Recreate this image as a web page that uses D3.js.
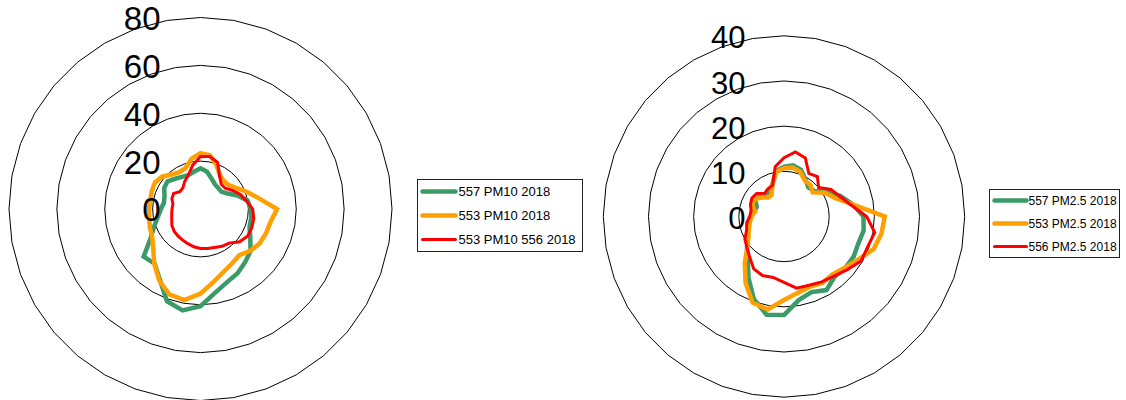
<!DOCTYPE html>
<html>
<head>
<meta charset="utf-8">
<script src="https://cdn.jsdelivr.net/npm/d3@7/dist/d3.min.js"></script>
<style>
  html, body { margin: 0; padding: 0; background: #fff; }
  svg { display: block; font-family: "Liberation Sans", Arial, sans-serif; }
</style>
</head>
<body>
<svg id="chart" width="1126" height="400"></svg>
<script>
// Wind directions, degrees clockwise from north
const directions = d3.range(0, 360, 10);

// PM10 concentration by wind direction, 2018
const pm10Station557 = [17.0, 15.8, 13.5, 12.0, 11.5, 11.3, 13.0, 16.5, 20.0, 21.0, 21.5, 21.8,
                        24.0, 27.3, 29.0, 31.0, 32.5, 35.5, 40.6, 43.0, 41.0, 34.0, 29.8, 31.0,
                        24.0, 20.5, 18.0, 16.5, 15.5, 16.0, 17.5, 18.0, 16.5, 15.5, 15.0, 15.8];
const pm10Station553 = [23.3, 22.8, 19.5, 16.3, 15.2, 15.5, 17.5, 20.8, 25.0, 32.0, 29.8, 29.2,
                        28.6, 27.2, 25.2, 26.3, 28.0, 31.0, 35.3, 38.6, 38.0, 34.5, 30.0, 25.8,
                        23.3, 22.5, 21.8, 21.5, 21.3, 21.7, 22.0, 21.0, 18.8, 17.8, 18.2, 21.4];
const pm10Station556 = [21.9, 22.3, 20.8, 15.9, 13.5, 13.5, 15.5, 17.8, 19.5, 21.8, 22.6, 22.8,
                        22.7, 21.3, 18.6, 18.0, 17.1, 16.8, 16.5, 16.0, 15.4, 15.0, 14.7, 14.4,
                        13.8, 12.8, 12.2, 11.9, 11.7, 12.7, 13.0, 11.3, 11.5, 13.2, 15.0, 18.6];

// PM2.5 concentration by wind direction, 2018
const pm25Station557 = [11.0, 11.5, 11.0, 9.5, 8.4, 8.8, 11.0, 13.3, 15.5, 17.6, 17.9, 17.5,
                        17.8, 17.7, 17.4, 18.8, 17.8, 18.8, 21.8, 22.1, 19.5, 15.7, 12.5, 10.7,
                        9.2, 8.4, 8.0, 7.3, 6.7, 6.4, 7.4, 6.9, 6.5, 6.2, 7.5, 10.2];
const pm25Station553 = [10.7, 11.0, 10.5, 9.2, 9.1, 8.3, 10.5, 12.0, 15.4, 22.3, 21.9, 21.1,
                        19.0, 17.6, 16.7, 17.0, 16.6, 17.2, 18.5, 20.9, 20.3, 17.0, 13.5, 10.6,
                        9.1, 8.3, 7.7, 7.2, 6.5, 7.5, 7.6, 6.5, 5.5, 5.5, 7.5, 10.0];
const pm25Station556 = [13.0, 14.5, 13.8, 11.0, 11.5, 10.0, 12.0, 13.1, 15.0, 18.3, 20.4, 19.7,
                        19.7, 18.3, 17.2, 16.7, 16.2, 16.1, 14.6, 13.7, 13.9, 13.4, 11.8, 10.7,
                        10.0, 8.8, 8.4, 7.6, 7.4, 7.9, 8.2, 7.9, 6.7, 7.1, 7.4, 11.2];

// Radial tick labels
const pm10Ticks = [0, 20, 40, 60, 80];
const pm25Ticks = [0, 10, 20, 30, 40];

// Legend entries
const pm10Names = ["557 PM10 2018", "553 PM10 2018", "553 PM10 556 2018"];
const pm25Names = ["557 PM2.5 2018", "553 PM2.5 2018", "556 PM2.5 2018"];

const seriesColors = ["#3a9a68", "#ffa000", "#ff0000"];
const seriesWidths = [4.5, 4.5, 3];

const svg = d3.select("#chart");
svg.append("rect").attr("width", 1126).attr("height", 400).attr("fill", "#fff");

function drawRose(cfg) {
  const g = svg.append("g").attr("transform", `translate(${cfg.cx},${cfg.cy})`);
  const maxTick = d3.max(cfg.ticks);
  const r = d3.scaleLinear().domain([0, maxTick]).range([0, cfg.radius]);
  const angle = d3.scaleLinear().domain([0, 360]).range([0, 2 * Math.PI]);

  const line = d3.lineRadial()
    .angle(d => angle(d[0]))
    .radius(d => r(d[1]))
    .curve(d3.curveLinearClosed);

  // Gridlines: polygons through every direction at each tick value
  cfg.ticks.filter(t => t > 0).forEach(t => {
    g.append("path")
      .attr("d", line(directions.map(a => [a, t])))
      .attr("fill", "none")
      .attr("stroke", "#000")
      .attr("stroke-width", 1);
  });

  // Series
  cfg.series.forEach((vals, i) => {
    g.append("path")
      .attr("d", line(directions.map((a, j) => [a, vals[j]])))
      .attr("fill", "none")
      .attr("stroke", seriesColors[i])
      .attr("stroke-width", seriesWidths[i])
      .attr("stroke-linejoin", "miter");
  });

  // Tick labels
  cfg.ticks.forEach(t => {
    g.append("text")
      .attr("x", -cfg.labelGap)
      .attr("y", -r(t) + cfg.tickFont * 0.36 + cfg.labelDy)
      .attr("text-anchor", "end")
      .attr("font-size", cfg.tickFont)
      .attr("fill", "#000")
      .text(t);
  });

  // Legend
  const lg = svg.append("g").attr("transform", `translate(${cfg.legend.x},${cfg.legend.y})`);
  lg.append("rect")
    .attr("width", cfg.legend.w).attr("height", cfg.legend.h)
    .attr("fill", "#fff").attr("stroke", "#222").attr("stroke-width", 1);
  cfg.names.forEach((name, i) => {
    const y = cfg.legend.row0 + i * cfg.legend.step;
    lg.append("line")
      .attr("x1", cfg.legend.lx1).attr("x2", cfg.legend.lx2)
      .attr("y1", y).attr("y2", y)
      .attr("stroke", seriesColors[i])
      .attr("stroke-width", seriesWidths[i])
      .attr("stroke-linecap", "round");
    lg.append("text")
      .attr("x", cfg.legend.tx)
      .attr("y", y + cfg.legend.font * 0.35)
      .attr("font-size", cfg.legend.font)
      .attr("fill", "#000")
      .text(name);
  });
}

drawRose({
  cx: 200.5, cy: 209, radius: 191.5,
  ticks: pm10Ticks, series: [pm10Station557, pm10Station553, pm10Station556],
  tickFont: 33, labelGap: 40, labelDy: 0.5,
  names: pm10Names,
  legend: { x: 417.5, y: 179.5, w: 165, h: 72, row0: 12, step: 24, lx1: 5, lx2: 38, tx: 41, font: 13 }
});

drawRose({
  cx: 784, cy: 216.5, radius: 180.7,
  ticks: pm25Ticks, series: [pm25Station557, pm25Station553, pm25Station556],
  tickFont: 31, labelGap: 38.5, labelDy: 1.5,
  names: pm25Names,
  legend: { x: 989.5, y: 189.5, w: 130, h: 68, row0: 11, step: 23, lx1: 5, lx2: 37, tx: 39, font: 12 }
});
</script>
</body>
</html>
